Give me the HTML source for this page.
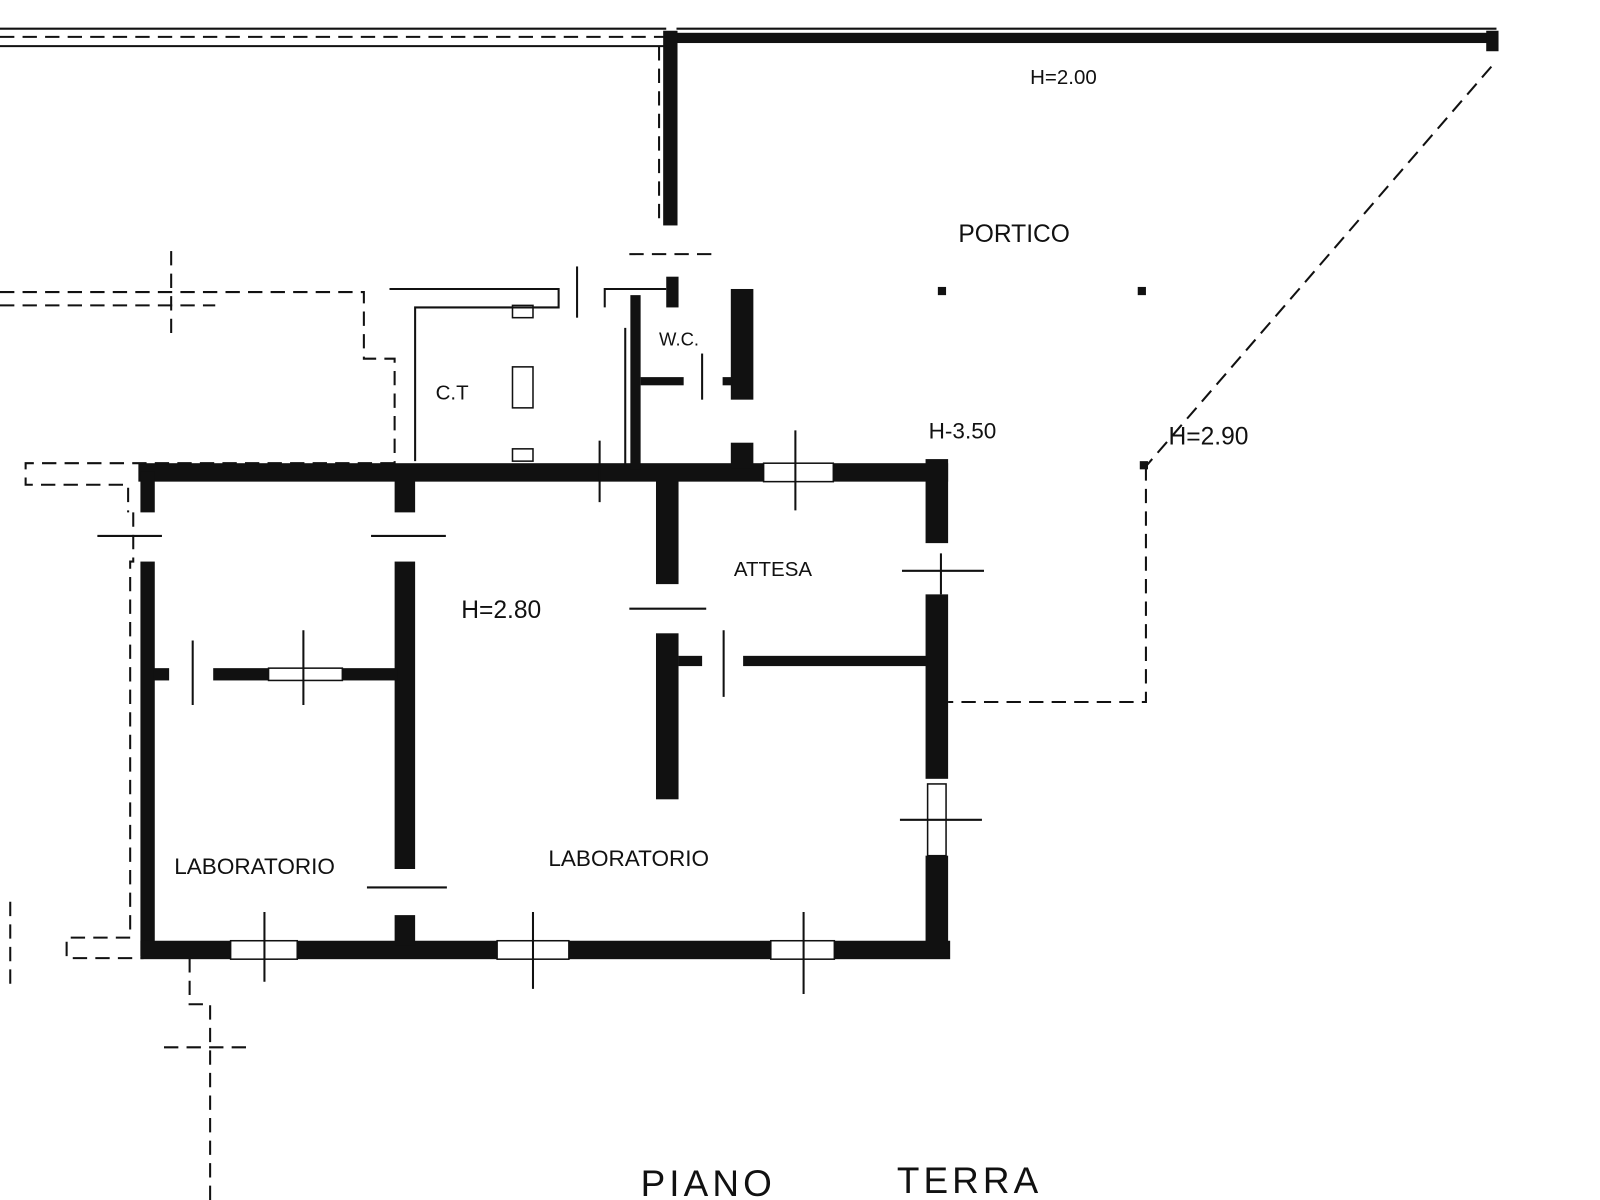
<!DOCTYPE html>
<html><head><meta charset="utf-8"><style>
html,body{margin:0;padding:0;background:#fff;width:1600px;height:1200px;overflow:hidden}
text{font-family:"Liberation Sans",sans-serif;fill:#111}
</style></head><body>
<svg width="1600" height="1200" viewBox="0 0 1561 1171" preserveAspectRatio="none" xmlns="http://www.w3.org/2000/svg">
<g fill="#111">
<rect x="650" y="32" width="810" height="10"/>
<rect x="1450" y="30" width="12" height="20"/>
<rect x="647" y="30" width="14" height="190"/>
<rect x="915" y="280" width="8" height="8"/><rect x="1110" y="280" width="8" height="8"/>
<rect x="1112" y="450" width="8" height="8"/>
<rect x="135" y="452" width="790" height="18"/>
<rect x="137" y="460" width="14" height="40"/>
<rect x="137" y="548" width="14" height="385"/>
<rect x="137" y="918" width="790" height="18"/>
<rect x="903" y="448" width="22" height="82"/>
<rect x="903" y="580" width="22" height="180"/>
<rect x="903" y="835" width="22" height="100"/>
<rect x="385" y="468" width="20" height="32"/>
<rect x="385" y="548" width="20" height="300"/>
<rect x="385" y="893" width="20" height="30"/>
<rect x="640" y="468" width="22" height="102"/>
<rect x="640" y="618" width="22" height="162"/>
<rect x="150" y="652" width="15" height="12"/>
<rect x="208" y="652" width="180" height="12"/>
<rect x="662" y="640" width="23" height="10"/>
<rect x="725" y="640" width="180" height="10"/>
<rect x="615" y="288" width="10" height="170"/>
<rect x="713" y="282" width="22" height="108"/>
<rect x="650" y="270" width="12" height="30"/>
<rect x="625" y="368" width="42" height="8"/>
<rect x="705" y="368" width="10" height="8"/>
<rect x="713" y="432" width="22" height="25"/>
</g>
<g fill="#fff" stroke="#111" stroke-width="1.5">
<rect x="745" y="452" width="68" height="18"/>
<rect x="225" y="918" width="65" height="18"/>
<rect x="485" y="918" width="70" height="18"/>
<rect x="752" y="918" width="62" height="18"/>
<rect x="262" y="652" width="72" height="12"/>
<rect x="905" y="765" width="18" height="70"/>
<rect x="500" y="358" width="20" height="40"/>
<rect x="500" y="298" width="20" height="12"/>
<rect x="500" y="438" width="20" height="12"/>
</g>
<g stroke="#111" stroke-width="2" fill="none">
<line x1="95" y1="523" x2="158" y2="523"/>
<line x1="362" y1="523" x2="435" y2="523"/>
<line x1="358" y1="866" x2="436" y2="866"/>
<line x1="614" y1="594" x2="689" y2="594"/>
<line x1="880" y1="557" x2="960" y2="557"/>
<line x1="878" y1="800" x2="958" y2="800"/>
<line x1="188" y1="625" x2="188" y2="688"/>
<line x1="296" y1="615" x2="296" y2="688"/>
<line x1="706" y1="615" x2="706" y2="680"/>
<line x1="258" y1="890" x2="258" y2="958"/>
<line x1="520" y1="890" x2="520" y2="965"/>
<line x1="784" y1="890" x2="784" y2="970"/>
<line x1="776" y1="420" x2="776" y2="498"/>
<line x1="585" y1="430" x2="585" y2="490"/>
<line x1="918" y1="540" x2="918" y2="580"/>
<line x1="563" y1="260" x2="563" y2="310"/>
<line x1="685" y1="345" x2="685" y2="390"/>
<polyline points="405,450 405,300 545,300 545,282 380,282"/>
<line x1="610" y1="320" x2="610" y2="455"/>
<polyline points="590,300 590,282 650,282"/>
<line x1="0" y1="28" x2="650" y2="28"/>
<line x1="0" y1="45" x2="650" y2="45"/>
<line x1="660" y1="28" x2="1460" y2="28"/>
</g>
<g stroke="#111" stroke-width="2" fill="none" stroke-dasharray="14,8">
<line x1="1455" y1="65" x2="1118" y2="455"/>
<polyline points="1118,455 1118,685 925,685"/>
<line x1="0" y1="36" x2="650" y2="36"/>
<line x1="643" y1="45" x2="643" y2="220"/>
<line x1="614" y1="248" x2="700" y2="248"/>
<polyline points="0,285 355,285 355,350 385,350 385,455"/>
<line x1="0" y1="298" x2="210" y2="298"/>
<line x1="167" y1="245" x2="167" y2="330"/>
<polyline points="130,500 130,548 127,548 127,915 65,915 65,935 140,935"/>
<polyline points="385,452 25,452 25,473 125,473 125,500"/>
<polyline points="185,935 185,980 205,980 205,1175"/>
<line x1="160" y1="1022" x2="248" y2="1022"/>
<line x1="10" y1="880" x2="10" y2="960"/>
</g>
<text x="1005" y="82" font-size="20">H=2.00</text>
<text x="935" y="236" font-size="24">PORTICO</text>
<text x="906" y="428" font-size="22">H-3.50</text>
<text x="1140" y="434" font-size="24">H=2.90</text>
<text x="425" y="390" font-size="20">C.T</text>
<text x="643" y="337" font-size="18">W.C.</text>
<text x="716" y="562" font-size="20">ATTESA</text>
<text x="450" y="603" font-size="24">H=2.80</text>
<text x="170" y="853" font-size="22">LABORATORIO</text>
<text x="535" y="845" font-size="22">LABORATORIO</text>
<text x="625" y="1167" font-size="36" letter-spacing="4">PIANO</text>
<text x="875" y="1164" font-size="36" letter-spacing="4">TERRA</text>
</svg>
</body></html>
